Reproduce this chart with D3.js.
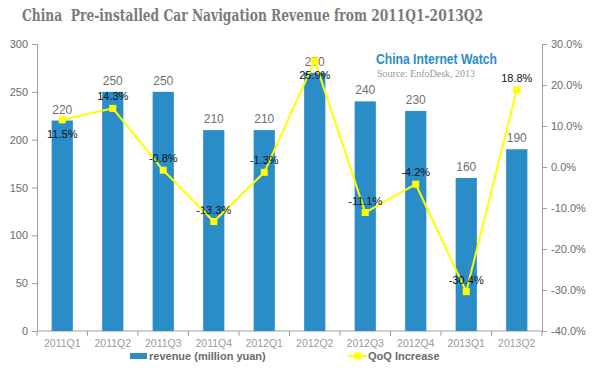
<!DOCTYPE html>
<html>
<head>
<meta charset="utf-8">
<script src="https://cdn.jsdelivr.net/npm/d3@7"></script>
<style>
  body { margin: 0; background: #fff; }
  svg { display: block; }
</style>
</head>
<body>
<div id="chart"></div>
<script>
// chart data
var quarters = ["2011Q1", "2011Q2", "2011Q3", "2011Q4", "2012Q1", "2012Q2", "2012Q3", "2012Q4", "2013Q1", "2013Q2"];
var revenue = [220, 250, 250, 210, 210, 270, 240, 230, 160, 190];
var qoq = [11.5, 14.3, -0.8, -13.3, -1.3, 25.9, -11.1, -4.2, -30.4, 18.8];
var leftTicks = [0, 50, 100, 150, 200, 250, 300];
var rightTicks = [-40, -30, -20, -10, 0, 10, 20, 30];

var W = 600, H = 372;
var margin = {top: 44, right: 58, bottom: 41, left: 37},
    width = W - margin.left - margin.right,
    height = H - margin.top - margin.bottom;

var svg = d3.select("#chart")
  .append("svg")
    .attr("width", W)
    .attr("height", H);

var g = svg.append("g")
    .attr("transform", "translate(" + margin.left + "," + margin.top + ")");

var x = d3.scaleBand()
  .domain(quarters)
  .range([0, width])
  .paddingInner(0.58)
  .paddingOuter(0.29);

var yLeft = d3.scaleLinear().domain([0, 300]).range([height, 0]);
var yRight = d3.scaleLinear().domain([-40, 30]).range([height, 0]);

var axisColor = "#a0a0a0";
var labelFont = "Liberation Sans, Arial, sans-serif";

// left axis
var la = g.append("g")
  .call(d3.axisLeft(yLeft).tickValues(leftTicks).tickSize(5).tickPadding(4));
la.select(".domain").attr("stroke", axisColor);
la.selectAll(".tick line").attr("stroke", axisColor);
la.selectAll(".tick text").attr("fill", "#6b6b6b").style("font", "11px " + labelFont);

// right axis
var ra = g.append("g")
  .attr("transform", "translate(" + width + ",0)")
  .call(d3.axisRight(yRight).tickValues(rightTicks).tickSize(5).tickPadding(4)
    .tickFormat(function(d) { return d.toFixed(1) + "%"; }));
ra.select(".domain").attr("stroke", axisColor);
ra.selectAll(".tick line").attr("stroke", axisColor);
ra.selectAll(".tick text").attr("fill", "#6b6b6b").style("font", "11px " + labelFont);

// bottom axis, ticks between categories
var xb = g.append("g")
  .attr("transform", "translate(0," + height + ")");
xb.append("line")
  .attr("x1", 0).attr("x2", width)
  .attr("stroke", axisColor);
xb.selectAll(".sep")
  .data(d3.range(quarters.length + 1))
  .join("line")
    .attr("x1", function(i) { return i * width / quarters.length; })
    .attr("x2", function(i) { return i * width / quarters.length; })
    .attr("y1", 0).attr("y2", 5)
    .attr("stroke", axisColor);
xb.selectAll(".xl")
  .data(quarters)
  .join("text")
    .attr("x", function(d) { return x(d) + x.bandwidth() / 2; })
    .attr("y", 16)
    .attr("text-anchor", "middle")
    .attr("fill", "#9a9a9a")
    .style("font", "10.5px " + labelFont)
    .text(function(d) { return d; });

// bars
g.selectAll(".bar")
  .data(revenue)
  .join("rect")
    .attr("x", function(d, i) { return x(quarters[i]); })
    .attr("y", function(d) { return yLeft(d); })
    .attr("width", x.bandwidth())
    .attr("height", function(d) { return height - yLeft(d); })
    .attr("fill", "#2b8dc8");

// bar value labels
g.selectAll(".bv")
  .data(revenue)
  .join("text")
    .attr("x", function(d, i) { return x(quarters[i]) + x.bandwidth() / 2; })
    .attr("y", function(d) { return yLeft(d) - 7; })
    .attr("text-anchor", "middle")
    .attr("fill", "#707070")
    .style("font", "12px " + labelFont)
    .text(function(d) { return d; });

// QoQ line
var line = d3.line()
  .x(function(d, i) { return x(quarters[i]) + x.bandwidth() / 2; })
  .y(function(d) { return yRight(d); });

g.append("path")
  .datum(qoq)
  .attr("fill", "none")
  .attr("stroke", "#ffff00")
  .attr("stroke-width", 2)
  .attr("d", line);

g.selectAll(".mk")
  .data(qoq)
  .join("rect")
    .attr("x", function(d, i) { return x(quarters[i]) + x.bandwidth() / 2 - 3.5; })
    .attr("y", function(d) { return yRight(d) - 3.5; })
    .attr("width", 7)
    .attr("height", 7)
    .attr("fill", "#ffff00");

// QoQ labels: below the point where it sits at/above the top of its bar
g.selectAll(".ql")
  .data(qoq)
  .join("text")
    .attr("x", function(d, i) { return x(quarters[i]) + x.bandwidth() / 2; })
    .attr("y", function(d, i) {
      var below = yRight(d) <= yLeft(revenue[i]) + 2 && yLeft(revenue[i]) - yRight(d) < 20;
      return below ? yRight(d) + 18 : yRight(d) - 8;
    })
    .attr("text-anchor", "middle")
    .attr("fill", "#111")
    .style("font", "11px " + labelFont)
    .text(function(d) { return d.toFixed(1) + "%"; });

// title
svg.append("text")
  .attr("x", 22).attr("y", 21)
  .attr("fill", "#7a7a7a")
  .attr("textLength", 461)
  .attr("lengthAdjust", "spacingAndGlyphs")
  .style("white-space", "pre")
  .style("font", "bold 17px 'DejaVu Serif', Georgia, serif")
  .text("China  Pre-installed Car Navigation Revenue from 2011Q1-2013Q2");

// watermark
svg.append("text")
  .attr("x", 376).attr("y", 64)
  .attr("fill", "#2b8dc8")
  .attr("textLength", 121)
  .attr("lengthAdjust", "spacingAndGlyphs")
  .style("font", "bold 15px 'Liberation Sans Narrow', 'Liberation Sans', sans-serif")
  .text("China Internet Watch");
svg.append("text")
  .attr("x", 377).attr("y", 77)
  .attr("fill", "#999")
  .style("font", "10px 'Liberation Serif', serif")
  .text("Source: EnfoDesk, 2013");

// legend
var leg = svg.append("g");
leg.append("rect")
  .attr("x", 130).attr("y", 353)
  .attr("width", 17).attr("height", 6)
  .attr("fill", "#2b8dc8");
leg.append("text")
  .attr("x", 149).attr("y", 360)
  .attr("fill", "#6b6b6b")
  .style("font", "bold 11px " + labelFont)
  .text("revenue (million yuan)");
leg.append("line")
  .attr("x1", 348).attr("x2", 367)
  .attr("y1", 356).attr("y2", 356)
  .attr("stroke", "#ffff00").attr("stroke-width", 2);
leg.append("rect")
  .attr("x", 354).attr("y", 352.5)
  .attr("width", 7).attr("height", 7)
  .attr("fill", "#ffff00");
leg.append("text")
  .attr("x", 368).attr("y", 360)
  .attr("fill", "#6b6b6b")
  .style("font", "bold 11px " + labelFont)
  .text("QoQ Increase");
</script>
</body>
</html>
